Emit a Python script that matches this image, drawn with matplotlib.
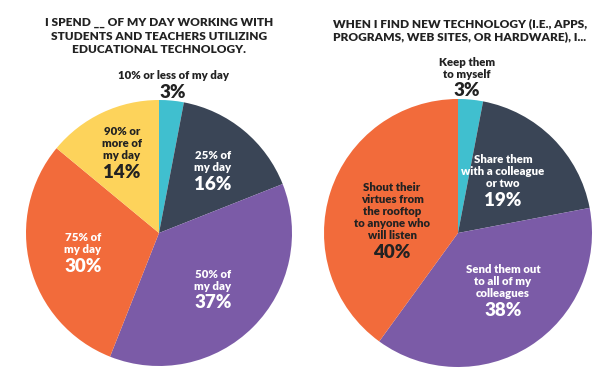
import matplotlib
matplotlib.use('Agg')
import matplotlib.pyplot as plt

plt.rcParams['font.family'] = ['Lato', 'DejaVu Sans']

# data
left_labels = ['10% or less of my day', '25% of\nmy day', '50% of\nmy day', '75% of\nmy day', '90% or\nmore of\nmy day']
left_values = [3, 16, 37, 30, 14]
right_labels = ['Keep them\nto myself', 'Share them\nwith a colleague\nor two', 'Send them out\nto all of my\ncolleagues',
                'Shout their\nvirtues from\nthe rooftop\nto anyone who\nwill listen']
right_values = [3, 19, 38, 40]

left_title = 'I SPEND __ OF MY DAY WORKING WITH\nSTUDENTS AND TEACHERS UTILIZING\nEDUCATIONAL TECHNOLOGY.'
right_title = 'WHEN I FIND NEW TECHNOLOGY (I.E., APPS,\nPROGRAMS, WEB SITES, OR HARDWARE), I...'

teal, slate, purple, orange, yellow = '#40bfcf', '#3a4556', '#7b5ba7', '#f26b3b', '#fdd35b'
left_colors = [teal, slate, purple, orange, yellow]
right_colors = [teal, slate, purple, orange]
dark = '#222222'

W, H = 600, 368
fig = plt.figure(figsize=(6, 3.68), dpi=100)
fig.patch.set_facecolor('white')


def pie_axes(cx, cy, r):
    # pie centre and radius in pixels (from top-left)
    ax = fig.add_axes([(cx - r) / W, (H - cy - r) / H, 2 * r / W, 2 * r / H])
    ax.axis('off')
    return ax


def fix_limits(ax):
    ax.set_xlim(-1, 1)
    ax.set_ylim(-1, 1)
    ax.set_aspect('equal')


def put_label(name, pct, px, py, color):
    # px, py: centre of the percentage, in pixels from top-left
    xy = (px / W, 1 - py / H)
    fig.text(xy[0], xy[1], f'{pct}%', ha='center', va='center', fontsize=13.5,
             fontweight='heavy', color=color)
    fig.text(xy[0], xy[1] + 13 / H, name, ha='center', va='baseline', fontsize=8.2,
             fontweight='heavy', color=color, linespacing=1.1)


# left pie
ax1 = pie_axes(159, 233, 133)
ax1.pie(left_values, colors=left_colors, startangle=90, counterclock=False, radius=1,
        wedgeprops=dict(linewidth=0))
fix_limits(ax1)
left_pos = [(173, 92, dark), (213, 184, 'white'), (213, 303, 'white'),
            (83, 266, 'white'), (122, 172, dark)]
for name, val, (x, y, c) in zip(left_labels, left_values, left_pos):
    put_label(name, val, x, y, c)

fig.text(159 / W, 1 - 36 / H, left_title, ha='center', va='center', fontsize=8.6,
         fontweight='heavy', color=dark, linespacing=1.3)

# right pie
ax2 = pie_axes(458, 233, 134)
ax2.pie(right_values, colors=right_colors, startangle=90, counterclock=False, radius=1,
        wedgeprops=dict(linewidth=0))
fix_limits(ax2)
right_pos = [(467, 91, dark), (503, 200, 'white'), (503, 310, 'white'), (392, 252, dark)]
for name, val, (x, y, c) in zip(right_labels, right_values, right_pos):
    put_label(name, val, x, y, c)

fig.text(460 / W, 1 - 30 / H, right_title, ha='center', va='center', fontsize=8.6,
         fontweight='heavy', color=dark, linespacing=1.3)

fig.savefig('out.png', dpi=100, facecolor='white')
plt.close(fig)
